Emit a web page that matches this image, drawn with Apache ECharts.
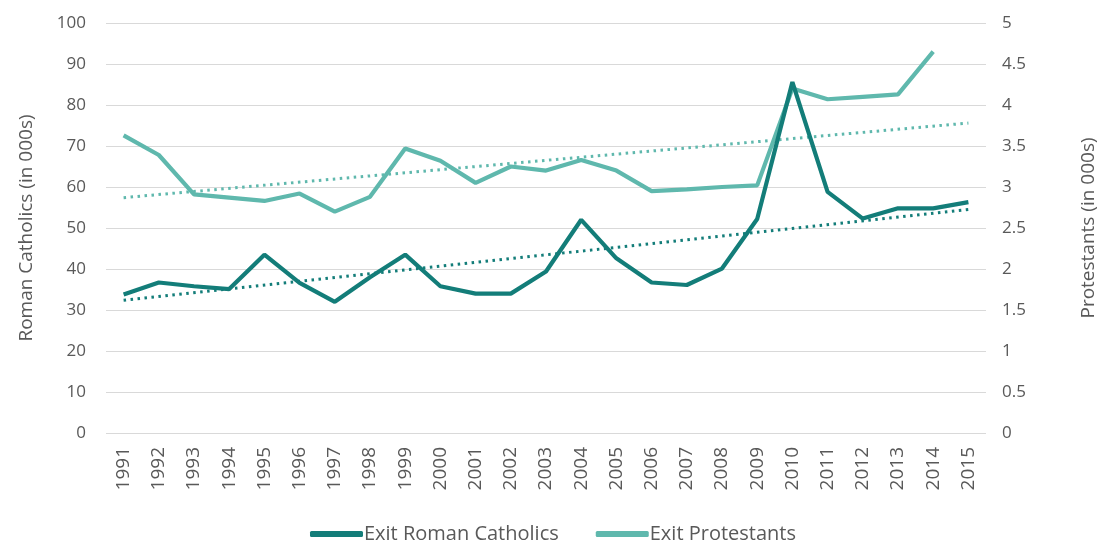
<!DOCTYPE html>
<html>
<head>
<meta charset="utf-8">
<script src="https://cdn.jsdelivr.net/npm/echarts@6/dist/echarts.min.js"></script>
<style>
  html, body { margin: 0; padding: 0; background: #fff; }
  #chart { width: 1106px; height: 549px; }
</style>
</head>
<body>
<div id="chart"></div>
<script>
var years = ['1991','1992','1993','1994','1995','1996','1997','1998','1999','2000','2001','2002','2003',
             '2004','2005','2006','2007','2008','2009','2010','2011','2012','2013','2014','2015'];

// Roman Catholics, thousands (left axis)
var catholics = [33.8, 36.7, 35.8, 35.1, 43.5, 36.6, 32.0, 38.0, 43.5, 35.8, 34.0, 34.0, 39.4,
                 52.0, 42.6, 36.7, 36.1, 40.1, 52.2, 85.6, 58.8, 52.3, 54.8, 54.8, 56.3];

// Protestants, thousands (right axis)
var protestants = [3.63, 3.39, 2.91, 2.87, 2.83, 2.92, 2.70, 2.88, 3.47, 3.32, 3.05, 3.25, 3.20,
                   3.33, 3.20, 2.95, 2.97, 3.00, 3.02, 4.20, 4.07, 4.10, 4.13, 4.65, null];

// linear trend end points
var catholicsTrend = [['1991', 32.4], ['2015', 54.5]];
var protestantsTrend = [['1991', 2.87], ['2015', 3.78]];

var darkTeal = '#137d79';
var lightTeal = '#5fb8ad';
var textColor = '#595959';
var fontFamily = '"Open Sans", "Noto Sans", sans-serif';

var chart = echarts.init(document.getElementById('chart'));

var option = {
    animation: false,
    grid: { left: 106, right: 114, top: 23, bottom: 116 },
    legend: {
        data: ['Exit Roman Catholics', 'Exit Protestants'],
        bottom: 0,
        left: 'center',
        itemWidth: 53,
        itemHeight: 6,
        itemGap: 37,
        icon: 'roundRect',
        textStyle: { color: textColor, fontSize: 20, padding: [0, 0, 0, -4], fontFamily: fontFamily }
    },
    xAxis: {
        type: 'category',
        data: years,
        boundaryGap: true,
        axisLine: { show: false },
        axisTick: { show: false },
        axisLabel: {
            rotate: 90,
            color: textColor,
            fontSize: 19,
            fontFamily: fontFamily,
            margin: 14,
            interval: 0
        }
    },
    yAxis: [{
        type: 'value',
        min: 0,
        max: 100,
        interval: 10,
        name: 'Roman Catholics (in 000s)',
        nameLocation: 'middle',
        nameRotate: 90,
        nameGap: 70,
        nameTextStyle: { color: textColor, fontSize: 19, fontFamily: fontFamily },
        axisLine: { show: false },
        axisTick: { show: false },
        axisLabel: { color: textColor, fontSize: 17, fontFamily: fontFamily, margin: 20 },
        splitLine: { lineStyle: { color: '#d9d9d9', width: 1.2 } }
    }, {
        type: 'value',
        min: 0,
        max: 5,
        interval: 0.5,
        position: 'right',
        name: 'Protestants (in 000s)',
        nameLocation: 'middle',
        nameRotate: 90,
        nameGap: 93,
        nameTextStyle: { color: textColor, fontSize: 19, fontFamily: fontFamily },
        axisLine: { show: false },
        axisTick: { show: false },
        axisLabel: { color: textColor, fontSize: 17, fontFamily: fontFamily, margin: 16 },
        splitLine: { show: false }
    }],
    series: [{
        name: 'Exit Roman Catholics',
        type: 'line',
        yAxisIndex: 0,
        data: catholics,
        symbol: 'none',
        z: 4,
        lineStyle: { color: darkTeal, width: 4.2 },
        itemStyle: { color: darkTeal }
    }, {
        name: 'Exit Protestants',
        type: 'line',
        yAxisIndex: 1,
        data: protestants,
        symbol: 'none',
        z: 3,
        lineStyle: { color: lightTeal, width: 4.2 },
        itemStyle: { color: lightTeal }
    }, {
        name: 'Catholics trend',
        type: 'line',
        yAxisIndex: 0,
        data: catholicsTrend,
        symbol: 'none',
        z: 2,
        lineStyle: { color: darkTeal, width: 3, type: [2.5, 4.5] }
    }, {
        name: 'Protestants trend',
        type: 'line',
        yAxisIndex: 1,
        data: protestantsTrend,
        symbol: 'none',
        z: 2,
        lineStyle: { color: lightTeal, width: 3, type: [2.5, 4.5] }
    }]
};

chart.setOption(option);
</script>
</body>
</html>
